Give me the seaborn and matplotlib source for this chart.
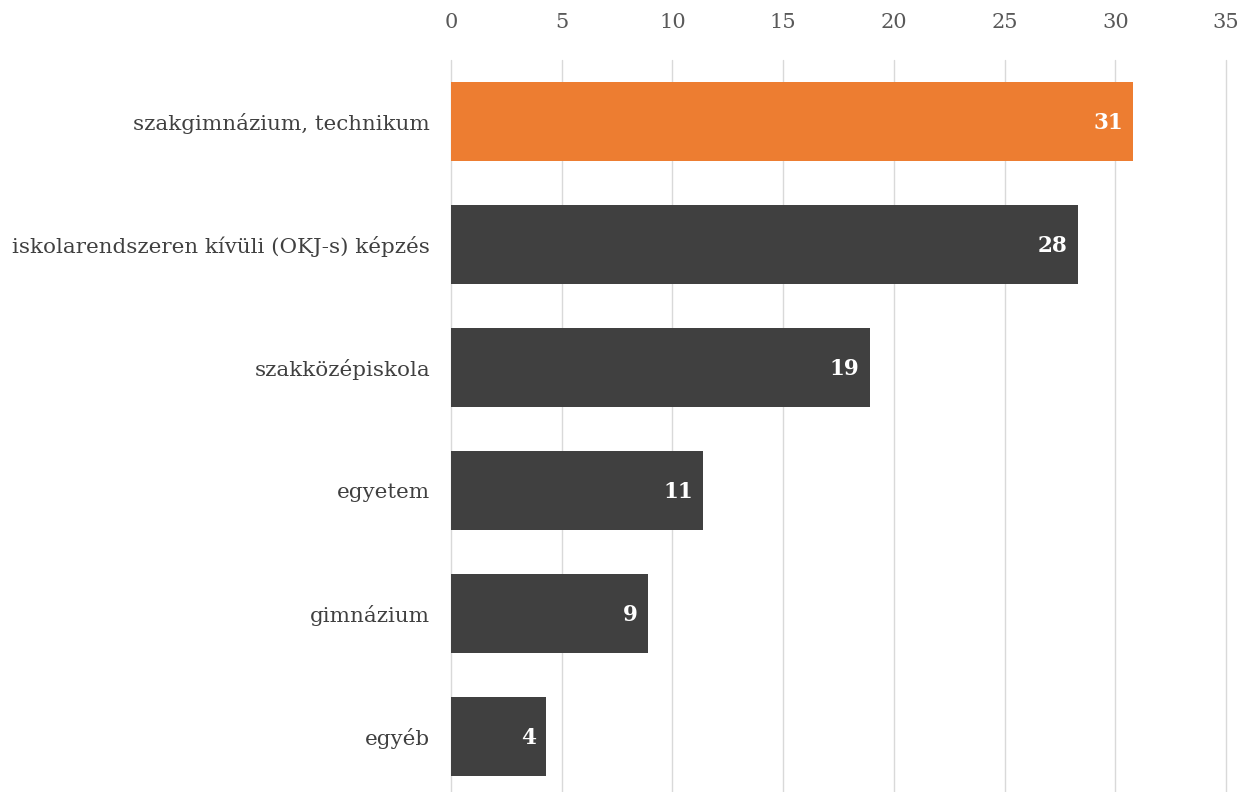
import matplotlib
matplotlib.use("Agg")
import matplotlib.pyplot as plt
import seaborn as sns
import pandas as pd

# Share of respondents by type of training (%)
categories = [
    "szakgimnázium, technikum",
    "iskolarendszeren kívüli (OKJ-s) képzés",
    "szakközépiskola",
    "egyetem",
    "gimnázium",
    "egyéb",
]
values = [30.8, 28.3, 18.9, 11.4, 8.9, 4.3]
x_ticks = [0, 5, 10, 15, 20, 25, 30, 35]

ORANGE = "#ED7D31"
DARK = "#404040"
colors = [ORANGE] + [DARK] * (len(categories) - 1)

df = pd.DataFrame({"category": categories, "value": values})

sns.set_theme(style="white")
plt.rcParams["font.family"] = ["DejaVu Serif", "DejaVu Sans"]

W, H = 1249, 792
fig = plt.figure(figsize=(W / 100, H / 100), dpi=100)
ax = fig.add_axes([451 / W, 1 - 798 / H, (1226 - 451) / W, (798 - 60) / H])

sns.barplot(data=df, x="value", y="category", hue="category",
            palette=colors, legend=False, width=0.65, ax=ax,
            saturation=1, zorder=3, linewidth=0)

ax.set_xlim(0, 35)
ax.set_ylim(len(categories) - 0.5, -0.5)
ax.set_xticks(x_ticks)
ax.xaxis.tick_top()
ax.tick_params(axis="x", length=0, pad=20, labelsize=15, labelcolor="#595959")
ax.tick_params(axis="y", length=0, pad=15, labelsize=15.4, labelcolor="#404040")
ax.set_xlabel("")
ax.set_ylabel("")
ax.grid(axis="x", color="#D9D9D9", linewidth=1, zorder=0)
ax.grid(axis="y", visible=False)
for gl in ax.get_xgridlines():
    gl.set_clip_on(False)
for s in ax.spines.values():
    s.set_visible(False)

for i, v in enumerate(values):
    ax.text(v - 0.45, i + 0.015, f"{v:.0f}", ha="right", va="center",
            color="white", fontsize=15.5, fontweight="bold", zorder=4)

fig.savefig("out.png", dpi=100)
